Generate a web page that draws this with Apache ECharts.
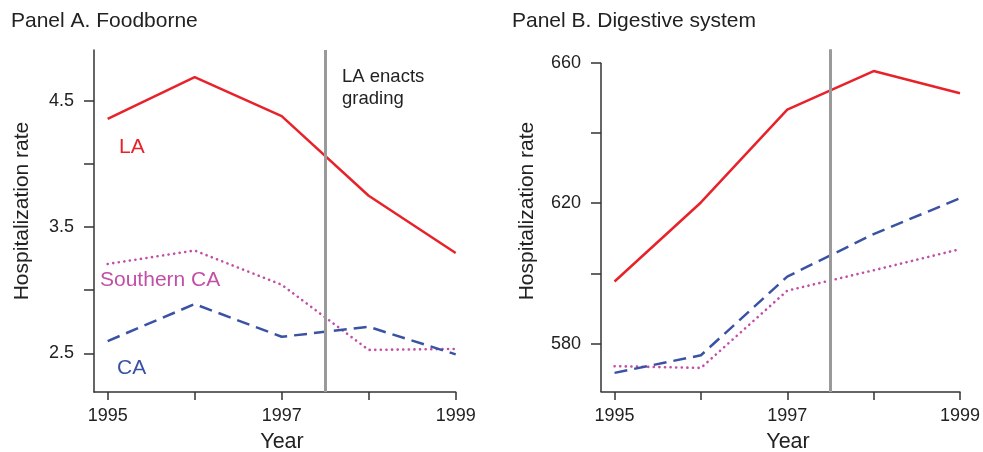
<!DOCTYPE html>
<html>
<head>
<meta charset="utf-8">
<script src="https://cdn.jsdelivr.net/npm/echarts@6/dist/echarts.min.js"></script>
<style>
	html, body { margin: 0; padding: 0; background: #fff; }
	#chart { width: 983px; height: 452px; }
</style>
</head>
<body>
<div id="chart"></div>
<script>
// data
const years = [1995, 1996, 1997, 1998, 1999]
const xTicks = [1995, 1996, 1997, 1998, 1999]
const xLabels = [1995, 1997, 1999]

// Panel A. Foodborne
const laFood = [4.355, 4.687, 4.377, 3.747, 3.294]
const socalFood = [3.207, 3.314, 3.043, 2.527, 2.535]
const caFood = [2.597, 2.890, 2.631, 2.710, 2.492]
const foodTicks = [2.5, 3.0, 3.5, 4.0, 4.5]
const foodLabels = [2.5, 3.5, 4.5]

// Panel B. Digestive system
const laDigest = [597.7, 620.2, 646.6, 657.6, 651.3]
const socalDigest = [573.6, 573.1, 595.1, 600.9, 606.9]
const caDigest = [571.7, 576.7, 599.1, 611.2, 621.4]
const digestTicks = [580, 600, 620, 640, 660]
const digestLabels = [580, 620, 660]

const gradingYear = 1997.5

const RED = "#e8222b"
const MAGENTA = "#c24fa6"
const BLUE = "#3a52a3"
const AXIS = "#333"
const FONT = "Liberation Sans, Arial, sans-serif"

const xMin = 1994.843

const pairs = (ys) => years.map((y, i) => [y, ys[i]])

const makeX = (gridIndex) => ({
	type: "value",
	gridIndex: gridIndex,
	min: xMin,
	max: 1999,
	splitLine: { show: false },
	axisLine: { lineStyle: { color: AXIS, width: 1.5 } },
	axisTick: { length: 8, lineStyle: { color: AXIS, width: 1.5 }, customValues: xTicks },
	axisLabel: {
		customValues: xLabels,
		margin: 15,
		color: "#222",
		fontSize: 18,
		fontFamily: FONT,
		formatter: (v) => String(v),
	},
})

const makeY = (gridIndex, min, max, ticks, labels, showLine) => ({
	type: "value",
	gridIndex: gridIndex,
	min: min,
	max: max,
	splitLine: { show: false },
	axisLine: { show: showLine, lineStyle: { color: AXIS, width: 1.5 } },
	axisTick: { show: true, length: 10, lineStyle: { color: AXIS, width: 1.5 }, customValues: ticks },
	axisLabel: {
		customValues: labels,
		margin: 20,
		color: "#222",
		fontSize: 18,
		fontFamily: FONT,
		formatter: (v) => (gridIndex === 0 ? v.toFixed(1) : String(v)),
	},
})

const line = (name, data, idx, color, kind) => {
	let type = "solid"
	let width = 2.5
	let cap = "butt"
	if (kind === "dash") type = [13, 7]
	if (kind === "dot") {
		type = [0.1, 5.5]
		cap = "round"
		width = 2.6
	}
	return {
		name: name,
		type: "line",
		xAxisIndex: idx,
		yAxisIndex: idx,
		data: pairs(data),
		symbol: "none",
		clip: false,
		silent: true,
		lineStyle: { color: color, width: width, type: type, cap: cap },
		z: 3,
	}
}

const vline = (x, y0, y1, color, width) => [
	{ coord: [x, y0], lineStyle: { color: color, width: width, type: "solid" } },
	{ coord: [x, y1] },
]

const markLines = (items) => ({
	silent: true,
	symbol: ["none", "none"],
	label: { show: false },
	data: items,
})

const text = (str, x, y, size, color, align, rotation) => ({
	type: "text",
	x: x,
	y: y,
	rotation: rotation || 0,
	style: {
		text: str,
		fill: color,
		font: size + "px " + FONT,
		align: align || "left",
		verticalAlign: "middle",
	},
})

let chart = echarts.init(document.getElementById("chart"))
let laA = line("LA", laFood, 0, RED, "solid")
laA.markLine = markLines([vline(gradingYear, 2.194, 4.901, "#9a9a9a", 3)])
let laB = line("LA", laDigest, 1, RED, "solid")
// panel B: the grading line runs above the top tick, the axis line stops at 660
laB.markLine = markLines([
	vline(gradingYear, 566.25, 663.8, "#9a9a9a", 3),
	vline(xMin, 566.25, 660, AXIS, 1.5),
])

let option = {
	animation: false,
	backgroundColor: "#fff",
	grid: [
		{ left: 94, top: 50, width: 361.7, height: 342 },
		{ left: 601, top: 49.3, width: 362, height: 342.7 },
	],
	xAxis: [makeX(0), makeX(1)],
	yAxis: [
		makeY(0, 2.194, 4.901, foodTicks, foodLabels, true),
		makeY(1, 566.25, 663.8, digestTicks, digestLabels, false),
	],
	series: [
		line("Southern CA", socalFood, 0, MAGENTA, "dot"),
		line("CA", caFood, 0, BLUE, "dash"),
		laA,
		line("Southern CA", socalDigest, 1, MAGENTA, "dot"),
		line("CA", caDigest, 1, BLUE, "dash"),
		laB,
	],
	graphic: [
		text("Panel A. Foodborne", 11, 21, 21, "#222"),
		text("Panel B. Digestive system", 512, 21, 21, "#222"),
		text("Year", 282, 442, 21.5, "#222", "center"),
		text("Year", 788, 442, 21.5, "#222", "center"),
		text("Hospitalization rate", 22, 211, 21, "#222", "center", Math.PI / 2),
		text("Hospitalization rate", 527, 211, 21, "#222", "center", Math.PI / 2),
		text("LA", 119, 147, 21, RED),
		text("Southern CA", 100, 280, 21, MAGENTA),
		text("CA", 117, 368, 21, BLUE),
		text("LA enacts", 342, 77, 18.5, "#222"),
		text("grading", 342, 99, 18.5, "#222"),
	],
}
chart.setOption(option)
</script>
</body>
</html>
